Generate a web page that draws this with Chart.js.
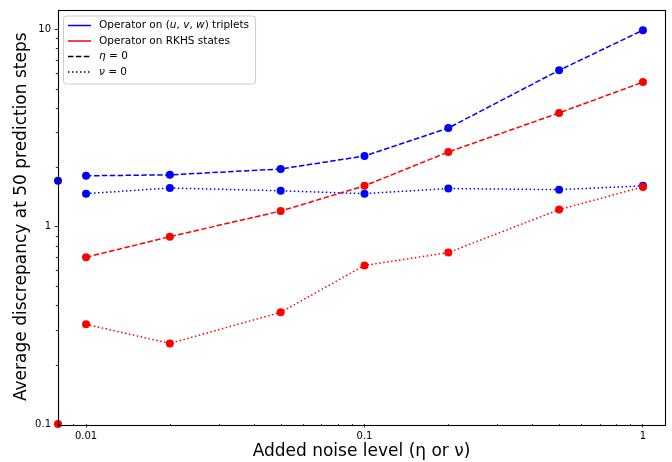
<!DOCTYPE html>
<html><head><meta charset="utf-8">
<script src="https://cdn.jsdelivr.net/npm/chart.js@4/dist/chart.umd.min.js"></script>
<style>html,body{margin:0;padding:0;background:#fff;}#wrap{width:672px;height:462px;}</style>
</head><body><div id="wrap"><canvas id="c" width="672" height="462"></canvas></div>
<script>
// ---- data ----
const noiseLevels = [0.01, 0.02, 0.05, 0.1, 0.2, 0.5, 1];
const uvwEta0  = [1.81, 1.83, 1.96, 2.28, 3.16, 6.2, 9.9];
const uvwNu0   = [1.47, 1.57, 1.52, 1.47, 1.56, 1.54, 1.61];
const rkhsEta0 = [0.70, 0.89, 1.20, 1.61, 2.39, 3.77, 5.40];
const rkhsNu0  = [0.32, 0.256, 0.368, 0.636, 0.739, 1.22, 1.59];
const uvwNoNoise = [1.71];
const rkhsNoNoise = [0.1];
const xTickValues = [0.01, 0.1, 1];
const xTickLabels = ['0.01', '0.1', '1'];
const yTickValues = [0.1, 1, 10];
const yTickLabels = ['0.1', '1', '10'];
const xLimits = [0.00793, 1.2];
const yLimits = [0.1, 12.6];
const xTitle = 'Added noise level (η or ν)';
const yTitle = 'Average discrepancy at 50 prediction steps';
// legend labels as [text, italic] segments
const legendLabels = [
  [['Operator on (', false], ['u', true], [', ', false], ['v', true], [', ', false], ['w', true], [') triplets', false]],
  [['Operator on RKHS states', false]],
  [['η', true], [' = 0', false]],
  [['ν', true], [' = 0', false]]
];
const legendColors = ['#0000ff', '#ff0000', '#000000', '#000000'];
const legendDashes = [[], [], [5.5, 2.4], [1.5, 2.5]];

const FONT = 'DejaVu Sans';
const BLUE = '#0000ff', RED = '#ff0000';
const DASH = [5.5, 2.4], DOT = [1.5, 2.5];

function pts(xs, ys) { return xs.map((x, i) => ({x: x, y: ys[i]})); }
function lineDs(xs, ys, color, dash, order) {
  return {
    data: pts(xs, ys), borderColor: color, backgroundColor: color,
    borderWidth: 1.5, borderDash: dash, pointRadius: 4, pointHoverRadius: 4,
    pointBackgroundColor: color, pointBorderWidth: 0, tension: 0, clip: false, order: order
  };
}

const minorTicks = {
  id: 'minorTicks',
  afterDraw(chart) {
    const ctx = chart.ctx, a = chart.chartArea;
    ctx.save();
    ctx.strokeStyle = '#000'; ctx.lineWidth = 0.8;
    const xs = chart.scales.x, ys = chart.scales.y;
    for (let k = -4; k <= 2; k++) {
      for (let d = 2; d <= 9; d++) {
        const v = d * Math.pow(10, k);
        if (v >= xs.min && v <= xs.max) {
          const p = Math.round(xs.getPixelForValue(v)) + 0.5;
          ctx.beginPath(); ctx.moveTo(p, a.bottom); ctx.lineTo(p, a.bottom + 2.2); ctx.stroke();
        }
        if (v >= ys.min && v <= ys.max) {
          const p = Math.round(ys.getPixelForValue(v)) + 0.5;
          ctx.beginPath(); ctx.moveTo(a.left, p); ctx.lineTo(a.left - 2.2, p); ctx.stroke();
        }
      }
    }
    // frame
    ctx.lineWidth = 1.1;
    ctx.strokeStyle = '#000';
    ctx.strokeRect(Math.round(a.left) + 0.5, Math.round(a.top) + 0.5, Math.round(a.right - a.left), Math.round(a.bottom - a.top));
    ctx.restore();
  }
};

const customLegend = {
  id: 'customLegend',
  afterDraw(chart) {
    const ctx = chart.ctx, a = chart.chartArea;
    ctx.save();
    const fs = 10.5;
    const fontN = fs + 'px "' + FONT + '"', fontI = 'italic ' + fs + 'px "' + FONT + '"';
    let maxW = 0;
    legendLabels.forEach(segs => {
      let w = 0;
      segs.forEach(s => { ctx.font = s[1] ? fontI : fontN; w += ctx.measureText(s[0]).width; });
      maxW = Math.max(maxW, w);
    });
    const bx = a.left + 5, by = a.top + 6;
    const bw = 36 + maxW + 6, bh = 68;
    ctx.beginPath();
    if (ctx.roundRect) ctx.roundRect(bx + 0.5, by + 0.5, bw, bh, 3); else ctx.rect(bx + 0.5, by + 0.5, bw, bh);
    ctx.fillStyle = 'rgba(255,255,255,0.8)'; ctx.fill();
    ctx.strokeStyle = '#cccccc'; ctx.lineWidth = 1; ctx.stroke();
    legendLabels.forEach((segs, i) => {
      const cy = by + 10 + i * 15.5;
      ctx.strokeStyle = legendColors[i]; ctx.lineWidth = 1.5;
      ctx.setLineDash(legendDashes[i]);
      ctx.beginPath(); ctx.moveTo(bx + 5, cy); ctx.lineTo(bx + 28, cy); ctx.stroke();
      ctx.setLineDash([]);
      let tx = bx + 36;
      ctx.fillStyle = '#000'; ctx.textBaseline = 'middle'; ctx.textAlign = 'left';
      segs.forEach(s => { ctx.font = s[1] ? fontI : fontN; ctx.fillText(s[0], tx, cy); tx += ctx.measureText(s[0]).width; });
    });
    ctx.restore();
  }
};

const tickFont = {family: FONT, size: 10};
new Chart(document.getElementById('c'), {
  type: 'line',
  data: {
    datasets: [
      lineDs(noiseLevels, uvwEta0, BLUE, DASH, 6),
      lineDs(noiseLevels, uvwNu0, BLUE, DOT, 5),
      lineDs(noiseLevels, rkhsEta0, RED, DASH, 4),
      lineDs(noiseLevels, rkhsNu0, RED, DOT, 3),
      Object.assign(lineDs([xLimits[0]], uvwNoNoise, BLUE, [], 2), {showLine: false}),
      Object.assign(lineDs([xLimits[0]], rkhsNoNoise, RED, [], 1), {showLine: false})
    ]
  },
  options: {
    responsive: false, animation: false, devicePixelRatio: 1,
    layout: {padding: {left: 0, right: 7, top: 8, bottom: 0}},
    plugins: {legend: {display: false}, tooltip: {enabled: false}},
    scales: {
      x: {
        type: 'logarithmic', min: xLimits[0], max: xLimits[1],
        afterBuildTicks(s) { s.ticks = xTickValues.map(v => ({value: v})); },
        afterFit(s) { s.height = 38; },
        ticks: {font: tickFont, color: '#000', padding: 3, maxRotation: 0, autoSkip: false,
          callback: (v) => { const i = xTickValues.indexOf(v); return i >= 0 ? xTickLabels[i] : ''; }},
        grid: {display: true, drawOnChartArea: false, drawTicks: true, tickLength: 3.5, tickColor: '#000', tickWidth: 0.8},
        border: {display: false},
        title: {display: true, text: xTitle, font: {family: FONT, size: 17}, color: '#000', padding: {top: 0, bottom: 0}}
      },
      y: {
        type: 'logarithmic', min: yLimits[0], max: yLimits[1],
        afterBuildTicks(s) { s.ticks = yTickValues.map(v => ({value: v})); },
        afterFit(s) { s.width = 58; },
        ticks: {font: tickFont, color: '#000', padding: 3.5, autoSkip: false,
          callback: (v) => { const i = yTickValues.indexOf(v); return i >= 0 ? yTickLabels[i] : ''; }},
        grid: {display: true, drawOnChartArea: false, drawTicks: true, tickLength: 3.5, tickColor: '#000', tickWidth: 0.8},
        border: {display: false},
        title: {display: true, text: yTitle, font: {family: FONT, size: 17}, color: '#000', padding: {top: 11, bottom: 0}}
      }
    }
  },
  plugins: [minorTicks, customLegend]
});
</script></body></html>
